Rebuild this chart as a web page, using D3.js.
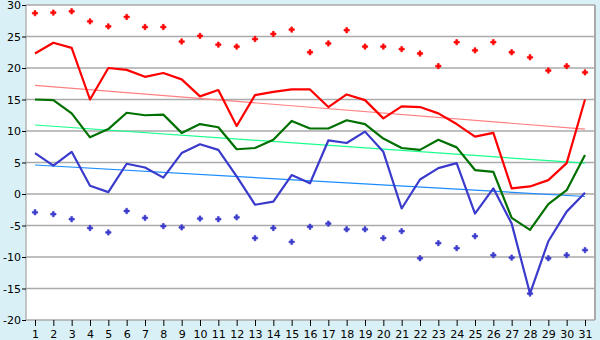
<!DOCTYPE html>
<html>
<head>
<meta charset="utf-8">
<script src="https://cdn.jsdelivr.net/npm/d3@7"></script>
<style>
  body { margin: 0; background: #d9f0f6; }
  svg { display: block; }
  .tick text { font-family: "DejaVu Sans", sans-serif; font-size: 11px; fill: #000; }
</style>
</head>
<body>
<svg id="chart" width="600" height="340"></svg>
<script>
// Days of the month
var days = d3.range(1, 32);
// Daily values
var max_temp = [22.3, 24.0, 23.2, 15.0, 20.0, 19.7, 18.6, 19.2, 18.2, 15.5, 16.5, 10.8, 15.7, 16.2, 16.6, 16.6,
    13.8, 15.8, 14.9, 12.0, 13.9, 13.8, 12.8, 11.1, 9.1, 9.7, 0.9, 1.2, 2.2, 4.9, 15.0];
var mean_temp = [15.0, 14.9, 12.8, 9.0, 10.3, 12.9, 12.5, 12.6, 9.7, 11.1, 10.6, 7.1, 7.3, 8.6, 11.6, 10.4,
    10.4, 11.7, 11.1, 8.8, 7.3, 7.0, 8.6, 7.4, 3.8, 3.5, -3.8, -5.7, -1.6, 0.6, 6.2];
var min_temp = [6.5, 4.5, 6.7, 1.3, 0.3, 4.8, 4.2, 2.6, 6.5, 7.9, 7.0, 2.8, -1.7, -1.2, 3.0, 1.7,
    8.5, 8.1, 9.9, 6.7, -2.3, 2.3, 4.1, 4.9, -3.1, 0.9, -4.7, -15.8, -7.5, -2.8, 0.2];
var record_max = [28.7, 28.8, 29.0, 27.4, 26.6, 28.1, 26.5, 26.5, 24.2, 25.1, 23.7, 23.4, 24.6, 25.4, 26.1, 22.5,
    23.9, 26.0, 23.4, 23.4, 23.0, 22.3, 20.3, 24.1, 22.8, 24.1, 22.5, 21.7, 19.6, 20.3, 19.3];
var record_min = [-2.9, -3.2, -4.0, -5.4, -6.1, -2.7, -3.8, -5.1, -5.3, -3.9, -4.0, -3.7, -7.0, -5.4, -7.6, -5.2,
    -4.7, -5.6, -5.6, -7.0, -5.9, -10.2, -7.8, -8.6, -6.7, -9.7, -10.1, -15.8, -10.2, -9.7, -8.9];
// Trend lines: value on the first and on the last day
var trend_max = [17.25, 10.3];
var trend_mean = [10.95, 4.9];
var trend_min = [4.6, -0.4];
var y_ticks = [-20, -15, -10, -5, 0, 5, 10, 15, 20, 25, 30];

var svg = d3.select('#chart');
var plot_left = 26, plot_right = 595, plot_top = 5, plot_bottom = 320;

var x = d3.scalePoint().domain(days).range([35, 585]);
var y = d3.scaleLinear().domain([-20, 30]).range([plot_bottom, plot_top]);

// Plot background
svg.append('rect')
    .attr('x', plot_left).attr('y', plot_top)
    .attr('width', plot_right - plot_left).attr('height', plot_bottom - plot_top)
    .attr('fill', '#fff');

// Horizontal grid lines
svg.append('g').selectAll('line').data(y_ticks)
    .enter().append('line')
    .attr('x1', plot_left).attr('x2', plot_right)
    .attr('y1', function (d) { return y(d); })
    .attr('y2', function (d) { return y(d); })
    .attr('stroke', '#aaa')
    .attr('stroke-width', 1.3);

// Frame on the right and left
svg.append('line').attr('x1', plot_right).attr('x2', plot_right).attr('y1', plot_top).attr('y2', plot_bottom)
    .attr('stroke', '#aaa').attr('stroke-width', 2);
svg.append('line').attr('x1', plot_left).attr('x2', plot_left).attr('y1', plot_top).attr('y2', plot_bottom)
    .attr('stroke', '#aaa').attr('stroke-width', 1.3);

// Axes
var y_axis = svg.append('g')
    .attr('transform', 'translate(' + plot_left + ',0)')
    .call(d3.axisLeft(y).tickValues(y_ticks).tickSize(4).tickFormat(function (d) { return d; }));
y_axis.select('.domain').remove();
y_axis.selectAll('.tick line').attr('stroke', '#000');
y_axis.selectAll('.tick text').attr('x', -5);

var x_axis = svg.append('g')
    .attr('transform', 'translate(0,' + plot_bottom + ')')
    .call(d3.axisBottom(x).tickSize(6).tickPadding(4));
x_axis.select('.domain').remove();
x_axis.selectAll('.tick line').attr('stroke', '#000');

// Trend lines
function draw_trend(ends, color) {
    svg.append('line')
        .attr('x1', x(days[0])).attr('x2', x(days[days.length - 1]))
        .attr('y1', y(ends[0])).attr('y2', y(ends[1]))
        .attr('stroke', color)
        .attr('stroke-width', 1.2);
}
draw_trend(trend_max, '#ff8080');
draw_trend(trend_mean, '#1aff8c');
draw_trend(trend_min, '#1a8cff');

// Daily lines
function draw_line(values, color) {
    var line = d3.line()
        .x(function (d, i) { return x(days[i]); })
        .y(function (d) { return y(d); });
    svg.append('path')
        .datum(values)
        .attr('d', line)
        .attr('fill', 'none')
        .attr('stroke', color)
        .attr('stroke-width', 2.2)
        .attr('stroke-linejoin', 'round');
}
draw_line(max_temp, '#ff0000');
draw_line(mean_temp, '#007000');
draw_line(min_temp, '#3a3acc');

// Record markers (small plus-like dots)
function draw_points(values, color) {
    var symbol = d3.symbol().type(d3.symbolCross).size(16);
    svg.append('g').selectAll('path').data(values)
        .enter().append('path')
        .attr('d', symbol)
        .attr('transform', function (d, i) { return 'translate(' + x(days[i]) + ',' + y(d) + ')'; })
        .attr('fill', color)
        .attr('stroke', color)
        .attr('stroke-width', 0.6);
}
draw_points(record_max, '#ff0000');
draw_points(record_min, '#3a3acc');
</script>
</body>
</html>
